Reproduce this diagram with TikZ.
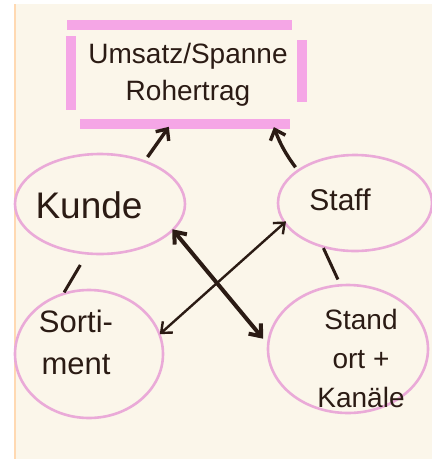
\documentclass[tikz,border=0pt]{standalone}
\usepackage{fontspec}
\setmainfont{Liberation Sans}
\usetikzlibrary{shapes.geometric,arrows.meta,calc}
\definecolor{paper}{HTML}{FBF6EA}
\definecolor{pinkbar}{HTML}{F5A6E6}
\definecolor{pinkline}{HTML}{EAAAD8}
\definecolor{ink}{HTML}{2B1B14}
\tikzset{
  bubble/.style={ellipse, draw=pinkline, line width=2.6pt, inner sep=0pt, text=ink, align=center},
  bar/.style={pinkbar, line width=10pt},
  thickarrow/.style={ink, line width=4pt, {Straight Barb[length=10pt,width=16pt]}-{Straight Barb[length=10pt,width=16pt]}},
  thinarrow/.style={ink, line width=2.4pt, {Straight Barb[length=9pt,width=15pt]}-{Straight Barb[length=9pt,width=15pt]}},
  uparrow/.style={ink, line width=3.4pt, -{Straight Barb[length=9pt,width=16pt]}},
  link/.style={ink, line width=3pt},
  lbl/.style={text=ink, align=center, inner sep=0pt}
}
\begin{document}
\begin{tikzpicture}[x=1pt,y=-1pt]
\useasboundingbox (0,0) rectangle (432,459);
\fill[white] (0,0) rectangle (432,459);
\fill[paper] (15,4) rectangle (432,459);
\draw[orange!30, line width=1.5pt] (15,4) -- (15,459);
% box
\node[lbl, minimum width=230pt, minimum height=100pt, font=\fontsize{28}{37}\selectfont] (box) at (188,75)
  {Umsatz/Spanne\\ Rohertrag};
\draw[bar] (67,25) -- (292,25);
\draw[bar] (71,36) -- (71,110);
\draw[bar] (302,40) -- (302,102);
\draw[bar] (80,124) -- (290,124);
% bubbles
\node[bubble, minimum width=170pt, minimum height=100pt] (kunde) at (100,204) {};
\node[lbl, font=\fontsize{37}{40}\selectfont] (kundet) at (89,205) {Kunde};
\node[bubble, minimum width=154pt, minimum height=96pt] (staff) at (355,203) {};
\node[lbl, font=\fontsize{30}{34}\selectfont] (stafft) at (340,200) {Staff};
\node[bubble, minimum width=148pt, minimum height=128pt] (sort) at (89,354) {};
\node[lbl, font=\fontsize{31}{42}\selectfont] (sortt) at (76,342) {Sorti-\\ment};
\node[bubble, minimum width=160pt, minimum height=128pt] (stand) at (348,349) {};
\node[lbl, font=\fontsize{28}{39}\selectfont] (standt) at (361,358) {Stand\\ort +\\Kanäle};
% connectors
\draw[uparrow, shorten <=4pt, shorten >=2pt] (kunde.44) -- ([xshift=-18pt]box.south);
\draw[uparrow, shorten <=3pt, shorten >=2pt] (staff.150) to[bend left=8] ([xshift=-30pt]box.south east);
\draw[thickarrow, shorten <=-2pt, shorten >=6pt] (kunde.-20) -- (stand.176);
\draw[thinarrow, shorten <=-3pt, shorten >=-1pt] (staff.196) -- (sort.16);
\draw[link, shorten <=12pt] (kunde.-105) -- (sort.112);
\draw[link, shorten >=5pt] (staff.-125) -- (stand.97);
\end{tikzpicture}
\end{document}
